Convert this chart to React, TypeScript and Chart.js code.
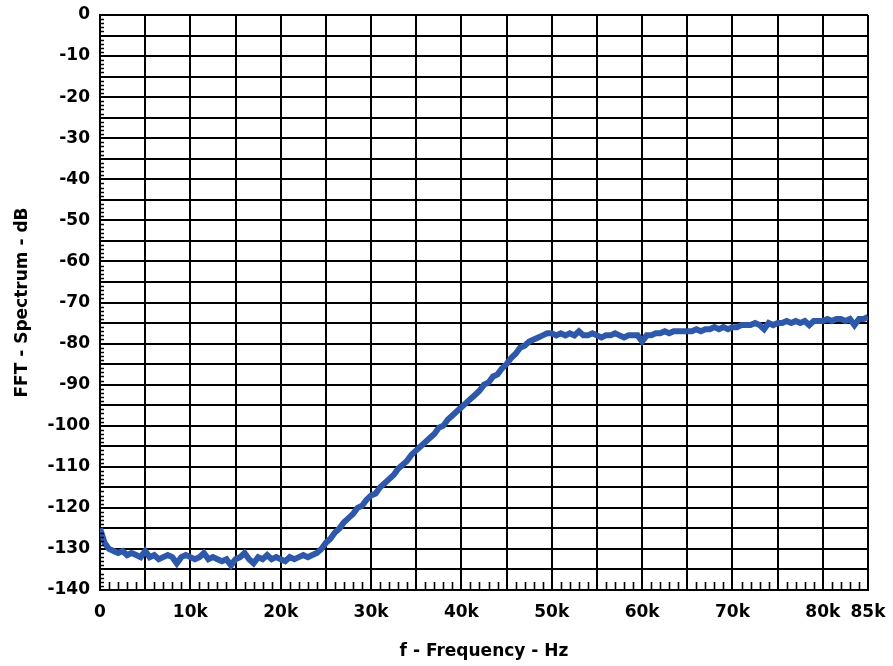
import React, { useEffect, useRef } from "react";
import { Chart, registerables } from "chart.js";

Chart.register(...registerables);

const freqK: number[] = [
  0, 0.5, 1, 1.5, 2, 2.5, 3, 3.5, 4, 4.5, 5, 5.5, 6, 6.5, 7, 7.5, 8, 8.5, 9, 9.5,
  10, 10.5, 11, 11.5, 12, 12.5, 13, 13.5, 14, 14.5, 15, 15.5, 16, 16.5, 17, 17.5, 18, 18.5, 19, 19.5,
  20, 20.5, 21, 21.5, 22, 22.5, 23, 23.5, 24, 24.5, 25, 25.5, 26, 26.5, 27, 27.5, 28, 28.5, 29, 29.5,
  30, 30.5, 31, 31.5, 32, 32.5, 33, 33.5, 34, 34.5, 35, 35.5, 36, 36.5, 37, 37.5, 38, 38.5, 39, 39.5,
  40, 40.5, 41, 41.5, 42, 42.5, 43, 43.5, 44, 44.5, 45, 45.5, 46, 46.5, 47, 47.5, 48, 48.5, 49, 49.5,
  50, 50.5, 51, 51.5, 52, 52.5, 53, 53.5, 54, 54.5, 55, 55.5, 56, 56.5, 57, 57.5, 58, 58.5, 59, 59.5,
  60, 60.5, 61, 61.5, 62, 62.5, 63, 63.5, 64, 64.5, 65, 65.5, 66, 66.5, 67, 67.5, 68, 68.5, 69, 69.5,
  70, 70.5, 71, 71.5, 72, 72.5, 73, 73.5, 74, 74.5, 75, 75.5, 76, 76.5, 77, 77.5, 78, 78.5, 79, 79.5,
  80, 80.5, 81, 81.5, 82, 82.5, 83, 83.5, 84, 84.5, 85,
];

const spectrumDb: number[] = [
  -125, -128.5, -130, -130.5, -131, -130.5, -131.5, -131, -131.5, -132, -130.5, -132, -131.5, -132.5, -132, -131.5, -132, -133.5, -132, -131.5,
  -132, -132.5, -132, -131, -132.5, -132, -132.5, -133, -132.5, -134, -132.5, -132, -131, -132.5, -133.5, -132, -132.5, -131.5, -132.5, -132,
  -132.5, -133, -132, -132.5, -132, -131.5, -132, -131.5, -131, -130, -128.5, -127.5, -126, -125, -123.5, -122.5, -121.5, -120, -119.5, -118,
  -117, -116.5, -115, -114, -113, -112, -110.5, -109.5, -108.5, -107, -106, -105, -104, -103, -102, -100.5, -100, -98.5, -97.5, -96.5,
  -95.5, -94.5, -93.5, -92.5, -91.5, -90, -89.5, -88, -87.5, -86, -85, -83.5, -82.5, -81, -80.5, -79.5, -79, -78.5, -78, -77.5,
  -77.5, -78, -77.5, -78, -77.5, -78, -77, -78, -78, -77.5, -78, -78.5, -78, -78, -77.5, -78, -78.5, -78, -78, -78,
  -79.5, -78, -78, -77.5, -77.5, -77, -77.5, -77, -77, -77, -77, -77, -76.5, -77, -76.5, -76.5, -76, -76.5, -76, -76.5,
  -76, -76, -75.5, -75.5, -75.5, -75, -75.5, -76.5, -75, -75.5, -75, -75, -74.5, -75, -74.5, -75, -74.5, -75.5, -74.5, -74.5,
  -74.5, -74, -74.5, -74, -74, -74.5, -74, -75.5, -74, -74, -73.5,
];

const xLabelValues: number[] = [0, 10, 20, 30, 40, 50, 60, 70, 80, 85];
const yLabelValues: number[] = [0, -10, -20, -30, -40, -50, -60, -70, -80, -90, -100, -110, -120, -130, -140];

const FONT = "'DejaVu Sans', sans-serif";

const minorTicks = {
  id: "minorTicks",
  afterDatasetsDraw(chart: any) {
    const { ctx, chartArea, scales } = chart;
    const xs = scales.x;
    const ys = scales.y;
    ctx.save();
    ctx.strokeStyle = "#000";
    ctx.lineWidth = 1.6;
    ctx.beginPath();
    for (let v = 1; v < 85; v++) {
      if (v % 5 === 0) continue;
      const px = Math.round(xs.getPixelForValue(v)) + 0.5;
      ctx.moveTo(px, chartArea.bottom);
      ctx.lineTo(px, chartArea.bottom - 8);
    }
    for (let v = -139; v < 0; v++) {
      if (v % 5 === 0) continue;
      const py = Math.round(ys.getPixelForValue(v)) + 0.5;
      ctx.moveTo(chartArea.left, py);
      ctx.lineTo(chartArea.left + 4, py);
    }
    ctx.stroke();
    ctx.restore();
  },
};

export default function App() {
  const ref = useRef<HTMLCanvasElement>(null);
  useEffect(() => {
    document.body.style.margin = "0";
    const chart = new Chart(ref.current!, {
      type: "line",
      data: {
        datasets: [
          {
            data: freqK.map((f, i) => ({ x: f, y: spectrumDb[i] })),
            borderColor: "rgb(46,88,170)",
            borderWidth: 6,
            borderJoinStyle: "miter",
            pointRadius: 0,
            tension: 0,
          },
        ],
      },
      options: {
        animation: false,
        responsive: false,
        layout: { padding: { top: 15, right: 25, left: 0, bottom: 0 } },
        plugins: { legend: { display: false }, tooltip: { enabled: false } },
        scales: {
          x: {
            type: "linear",
            min: 0,
            max: 85,
            afterFit: (s: any) => {
              s.height = 76;
              s.paddingLeft = 0;
              s.paddingRight = 0;
            },
            afterBuildTicks: (s: any) => {
              const t = [];
              for (let v = 0; v <= 85; v += 5) t.push({ value: v });
              s.ticks = t;
            },
            ticks: {
              autoSkip: false,
              maxRotation: 0,
              padding: 12,
              color: "#000",
              font: { family: FONT, size: 17, weight: "bold" },
              callback: (v: any) => {
                const n = Number(v);
                if (!xLabelValues.includes(n)) return "";
                return n === 0 ? "0" : n + "k";
              },
            },
            grid: { color: "#000", lineWidth: 2, drawTicks: false },
            border: { color: "#000", width: 2 },
            title: {
              display: true,
              text: "f - Frequency - Hz",
              color: "#000",
              font: { family: FONT, size: 17, weight: "bold" },
              padding: { top: 14 },
            },
          },
          y: {
            type: "linear",
            min: -140,
            max: 0,
            afterFit: (s: any) => {
              s.width = 100;
              s.paddingTop = 0;
              s.paddingBottom = 0;
            },
            afterBuildTicks: (s: any) => {
              const t = [];
              for (let v = -140; v <= 0; v += 5) t.push({ value: v });
              s.ticks = t;
            },
            ticks: {
              autoSkip: false,
              padding: 10,
              color: "#000",
              font: { family: FONT, size: 17, weight: "bold" },
              callback: (v: any) => {
                const n = Number(v);
                return yLabelValues.includes(n) ? String(n) : "";
              },
            },
            grid: { color: "#000", lineWidth: 2, drawTicks: false },
            border: { color: "#000", width: 2 },
            title: {
              display: true,
              text: "FFT - Spectrum - dB",
              color: "#000",
              font: { family: FONT, size: 17, weight: "bold" },
              padding: { top: 12, bottom: 0 },
            },
          },
        },
      },
      plugins: [minorTicks],
    });
    return () => chart.destroy();
  }, []);
  return <canvas ref={ref} width={893} height={666} />;
}
